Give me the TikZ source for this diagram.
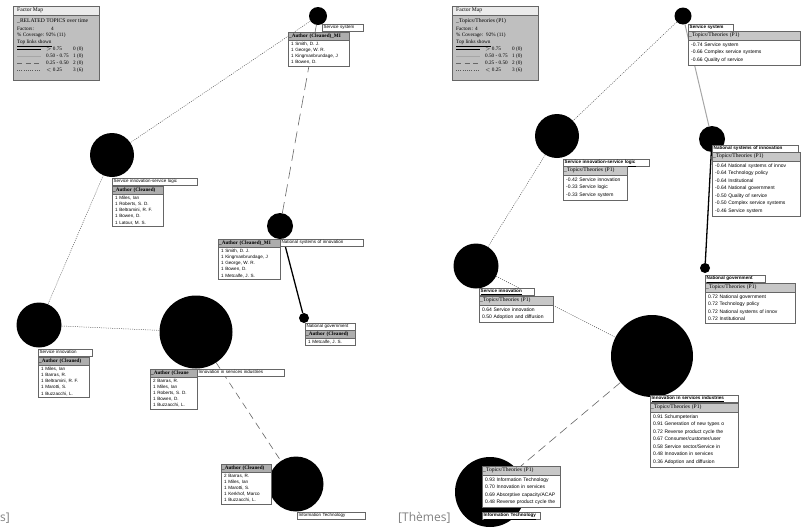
\documentclass[tikz,border=0pt]{standalone}
\usepackage{fontspec}
\setmainfont{Liberation Serif}
\setsansfont{Liberation Sans}
\newfontfamily\capfont{Open Sans}
\usetikzlibrary{positioning}

\tikzset{
  topic/.style={circle, fill=black, inner sep=0pt},
  weak/.style={draw=black!65, line width=0.5pt, dash pattern=on 1pt off 1.2pt},
  fair/.style={draw=black!35, line width=1pt},
  mid/.style={draw=black!60, line width=0.6pt, dash pattern=on 9pt off 5pt},
  strong/.style={draw=black, line width=1.3pt},
  tag/.style={draw=black!60, fill=white, anchor=north west, inner xsep=1.5pt, inner ysep=1pt,
    text height=3.5pt, text depth=1pt, align=left, font=\sffamily\fontsize{4.5}{5}\selectfont},
  utag/.style={tag, font=\sffamily\bfseries\fontsize{4.6}{5}\selectfont},
  head/.style={draw=black!60, fill=black!32, anchor=north west, inner xsep=1pt, inner ysep=1.6pt,
    text height=3.6pt, text depth=1pt, align=left, font=\rmfamily\bfseries\fontsize{5.2}{5}\selectfont},
  rhead/.style={head, fill=black!22, inner ysep=2pt, font=\rmfamily\fontsize{5.6}{5}\selectfont},
  list/.style={draw=black!60, fill=white, inner xsep=3pt, inner ysep=1.5pt, align=left,
    font=\sffamily\fontsize{4.6}{6.2}\selectfont},
  rlist/.style={list, inner ysep=2.5pt, font=\sffamily\fontsize{5}{7.5}\selectfont},
  keytext/.style={anchor=west, inner sep=0pt, font=\rmfamily\fontsize{5.2}{6}\selectfont},
}

\begin{document}
\begin{tikzpicture}[x=1pt, y=-1pt]
\useasboundingbox (0,0) rectangle (803,528);

% legends
\foreach \dx/\ttl/\nm/\fx/\cx in {0/{\_RELATED TOPICS over time}/l/34/29, 439/{\_Topics/Theories (P1)}/r/19/30}{
  \begin{scope}[xshift=\dx pt]
  \node[draw=black!60, fill=black!25, anchor=north west, minimum width=86pt, minimum height=74pt, inner sep=0pt] (\nm key) at (13,6) {};
  \node[draw=black!60, fill=black!8, anchor=north west, minimum width=86pt, minimum height=9pt, inner sep=0pt] (\nm bar) at (13,6) {};
  \node[keytext, font=\rmfamily\fontsize{5.6}{6}\selectfont] (\nm title) at (17,10.5) {Factor Map};
  \node[keytext, font=\rmfamily\fontsize{5.6}{6}\selectfont] (\nm ttl) at (17,21.5) {\ttl};
  \node[keytext] (\nm fac) at (17,28.5) {Factors:};
  \node[keytext] (\nm facv) at (17+\fx,28.5) {4};
  \node[keytext] (\nm cov) at (17,35.5) {\% Coverage:};
  \node[keytext] (\nm covv) at (17+\cx,35.5) {92\% (11)};
  \node[keytext] (\nm top) at (17,43) {\underline{Top links shown}};
  \draw[strong] (17,49.5) -- (41,49.5);
  \draw[fair] (17,56) -- (41,56);
  \draw[mid, dash pattern=on 5pt off 3.5pt] (17,63) -- (41,63);
  \draw[weak] (17,70) -- (41,70);
  \node[keytext] (\nm a) at (46,49.5) {$>$ 0.75};
  \node[keytext] (\nm b) at (46,56) {0.50 - 0.75};
  \node[keytext] (\nm c) at (46,63) {0.25 - 0.50};
  \node[keytext] (\nm d) at (46,70) {$<$ 0.25};
  \node[keytext] (\nm an) at (73,49.5) {0 (0)};
  \node[keytext] (\nm bn) at (73,56) {1 (0)};
  \node[keytext] (\nm cn) at (73,63) {2 (0)};
  \node[keytext] (\nm dn) at (73,70) {3 (6)};
  \end{scope}
}

% left map: topics
\node[topic, minimum size=18pt] (lss) at (318,16) {};
\node[topic, minimum size=44pt] (lsisl) at (112,155) {};
\node[topic, minimum size=26pt] (lnsi) at (280,226) {};
\node[topic, minimum size=45pt] (lsi) at (39,325) {};
\node[topic, minimum size=73pt] (lisi) at (196,332) {};
\node[topic, minimum size=10pt] (lng) at (304,318) {};
\node[topic, minimum size=55pt] (lit) at (296,484) {};

\draw[weak] (lss) -- (lsisl);
\draw[mid, dash pattern=on 12pt off 6pt] (lss) -- (lnsi);
\draw[weak] (lsisl) -- (lsi);
\draw[weak] (lsi) -- (lisi);
\draw[strong] (lnsi) -- (lng);
\draw[mid, dash pattern=on 7pt off 5pt] (lisi) -- (lit);

% left map: labels
\node[tag, text width=38pt] (lssT) at (322,24) {Service system};
\node[head, text width=59pt] (lssH) at (288,32) {\_Author (Cleaned)\_MI};
\node[list, text width=55pt, below=0pt of lssH] (lssL) {1 Smith, D. J.\\1 George, W. R.\\1 Kingmanbrundage, J\\1 Bowen, D.};

\node[tag, text width=82pt] (lsislT) at (112,178) {Service innovation-service logic};
\node[head, text width=49pt] (lsislH) at (112,186) {\_Author (Cleaned)};
\node[list, text width=45pt, below=0pt of lsislH] (lsislL) {1 Miles, Ian\\1 Roberts, S. D.\\1 Beltramini, R. F.\\1 Bowen, D.\\1 Latour, M. S.};

\node[tag, text width=80pt] (lnsiT) at (280,239) {National systems of innovation};
\node[head, text width=60pt] (lnsiH) at (218,239) {\_Author (Cleaned)\_MI};
\node[list, text width=56pt, below=0pt of lnsiH] (lnsiL) {1 Smith, D. J.\\1 Kingmanbrundage, J\\1 George, W. R.\\1 Bowen, D.\\1 Metcalfe, J. S.};

\node[tag, text width=51pt] (lsiT) at (38,349) {Service innovation};
\node[head, text width=49pt] (lsiH) at (38,357) {\_Author (Cleaned)};
\node[list, text width=45pt, below=0pt of lsiH] (lsiL) {1 Miles, Ian\\1 Barras, R.\\1 Beltramini, R. F.\\1 Marotti, S.\\1 Buzzacchi, L.};

\node[tag, text width=84pt] (lisiT) at (197,369) {Innovation in services industries};
\node[head, text width=45pt] (lisiH) at (150,369) {\_Author (Cleane};
\node[list, text width=41pt, below=0pt of lisiH] (lisiL) {2 Barras, R.\\1 Miles, Ian\\1 Roberts, S. D.\\1 Bowen, D.\\1 Buzzacchi, L.};

\node[tag, text width=47pt] (lngT) at (305,323) {National government};
\node[head, text width=48pt] (lngH) at (305,330) {\_Author (Cleaned)};
\node[list, text width=44pt, below=0pt of lngH] (lngL) {1 Metcalfe, J. S.};

\node[head, text width=48pt] (litH) at (221,464) {\_Author (Cleaned)};
\node[list, text width=44pt, below=0pt of litH] (litL) {2 Barras, R.\\1 Miles, Ian\\1 Marotti, S.\\1 Kerkhof, Marco\\1 Buzzacchi, L.};
\node[tag, text width=65pt] (litT) at (297,512) {Information Technology};

% right map: topics
\node[topic, minimum size=17pt] (rss) at (683,16) {};
\node[topic, minimum size=44pt] (rsisl) at (557,136) {};
\node[topic, minimum size=26pt] (rnsi) at (712,139) {};
\node[topic, minimum size=45pt] (rsi) at (476,266) {};
\node[topic, minimum size=10pt] (rng) at (705,268) {};
\node[topic, minimum size=82pt] (risi) at (652,356) {};
\node[topic, minimum size=70pt] (rit) at (490,492) {};

\draw[weak] (rss) -- (rsisl);
\draw[fair] (rss) -- (rnsi);
\draw[strong] (rnsi) -- (rng);
\draw[weak] (rsisl) -- (rsi);
\draw[weak] (rsi) -- (risi);
\draw[mid] (risi) -- (rit);

% right map: labels
\node[utag, text width=42pt] (rssT) at (688,24) {\underline{Service system}};
\node[rhead, text width=110pt] (rssH) at (688,31) {\_Topics/Theories (P1)};
\node[rlist, text width=106pt, below=0pt of rssH] (rssL) {-0.74 Service system\\-0.66 Complex service systems\\-0.66 Quality of service};

\node[utag, text width=83pt] (rsislT) at (563,159) {\underline{Service innovation-service logic}};
\node[rhead, text width=62pt] (rsislH) at (563,166) {\_Topics/Theories (P1)};
\node[rlist, text width=58pt, below=0pt of rsislH] (rsislL) {-0.42 Service innovation\\-0.33 Service logic\\-0.33 Service system};

\node[utag, text width=83pt] (rnsiT) at (712,145) {\underline{National systems of innovation}};
\node[rhead, text width=86pt] (rnsiH) at (712,152) {\_Topics/Theories (P1)};
\node[rlist, text width=82pt, below=0pt of rnsiH] (rnsiL) {-0.64 National systems of innov\\-0.64 Technology policy\\-0.64 Institutional\\-0.64 National government\\-0.50 Quality of service\\-0.50 Complex service systems\\-0.46 Service system};

\node[utag, text width=52pt] (rsiT) at (479,288) {\underline{Service innovation}};
\node[rhead, text width=72pt] (rsiH) at (479,296) {\_Topics/Theories (P1)};
\node[rlist, text width=68pt, below=0pt of rsiH] (rsiL) {0.64 Service innovation\\0.50 Adoption and diffusion};

\node[utag, text width=57pt] (rngT) at (705,275) {\underline{National government}};
\node[rhead, text width=88pt] (rngH) at (705,283) {\_Topics/Theories (P1)};
\node[rlist, text width=84pt, below=0pt of rngH] (rngL) {0.72 National government\\0.72 Technology policy\\0.72 National systems of innov\\0.72 Institutional};

\node[utag, text width=85pt] (risiT) at (650,395) {\underline{Innovation in services industries}};
\node[rhead, text width=86pt] (risiH) at (650,403) {\_Topics/Theories (P1)};
\node[rlist, text width=82pt, below=0pt of risiH] (risiL) {0.91 Schumpeterian\\0.91 Generation of new types o\\0.72 Reverse product cycle the\\0.67 Consumer/customer/user\\0.58 Service sector/Service in\\0.48 Innovation in services\\0.36 Adoption and diffusion};

\node[rhead, text width=76pt] (ritH) at (482,466) {\_Topics/Theories (P1)};
\node[rlist, text width=72pt, below=0pt of ritH] (ritL) {0.93 Information Technology\\0.70 Innovation in services\\0.69 Absorptive capacity/ACAP\\0.48 Reverse product cycle the};
\node[utag, text width=55pt] (ritT) at (482,512) {\underline{Information Technology}};

% captions cut at the bottom
\node[anchor=base west, inner sep=0pt, text=black!50, font=\capfont\fontsize{12}{12}\selectfont] (lcap) at (0,521) {s]};
\node[anchor=base west, inner sep=0pt, text=black!50, font=\capfont\fontsize{12}{12}\selectfont] (rcap) at (398,521) {[Thèmes]};
\end{tikzpicture}
\end{document}
